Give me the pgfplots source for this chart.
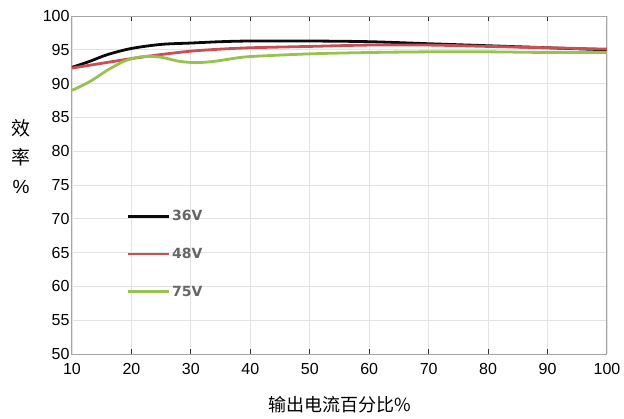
\documentclass[border=0pt]{standalone}
\usepackage{fontspec}
\setmainfont{Liberation Sans}
\newfontfamily\cjk{Noto Sans CJK SC}
\newfontfamily\legfont{DejaVu Sans}
\usepackage{pgfplots}
\pgfplotsset{compat=1.18}
\definecolor{c36}{RGB}{10,10,10}
\definecolor{c48}{RGB}{200,80,85}
\definecolor{c75}{RGB}{150,195,80}
\begin{document}
\begin{tikzpicture}
\path (-72pt,-64pt) (552pt,354pt);
\begin{axis}[
    at={(0pt,0pt)}, anchor=south west,
    scale only axis,
    width=535pt, height=338pt,
    xmin=10, xmax=100, ymin=50, ymax=100,
    xtick={10,20,...,100}, ytick={50,55,...,100},
    /pgf/number format/assume math mode=true,
    ticklabel style={font=\fontsize{16}{16}\selectfont},
    grid=major,
    grid style={gray!22, line width=0.8pt},
    axis line style={gray!70, line width=1pt},
    x axis line style={black!75},
    tick align=inside,
    major tick length=5pt,
    xtick style={black!80, line width=1pt},
    ytick style={draw=none},
    xticklabel style={yshift=-6pt},
    yticklabel style={xshift=1pt},
    xlabel={\cjk 输出电流百分比\%},
    xlabel style={font=\fontsize{18}{18}\selectfont, at={(axis description cs:0.5,0)},
        anchor=center, yshift=-51pt},
    legend style={at={(axis cs:18.6,71.9)}, anchor=north west, draw=none, fill=none,
        font=\fontsize{14}{14}\selectfont\legfont\bfseries\color{black!60},
        row sep=22pt},
    legend image code/.code={\draw[#1, line width=2.8pt] (0pt,0pt) -- (41pt,0pt);},
    every axis plot/.append style={line width=2.8pt, smooth},
]
\addplot[c36] coordinates {
 (10,92.4) (13,93.3) (16,94.3) (20,95.2) (25,95.8) (30,96.0) (35,96.2) (40,96.3)
 (50,96.3) (60,96.2) (70,95.9) (80,95.6) (90,95.3) (100,95.0)
};
\addlegendentry{36V}
\addplot[c48] coordinates {
 (10,92.3) (15,93.0) (20,93.7) (25,94.3) (30,94.8) (35,95.1) (40,95.3) (50,95.5)
 (60,95.7) (70,95.7) (80,95.5) (90,95.3) (100,95.1)
};
\addlegendentry{48V}
\addplot[c75] coordinates {
 (10,89.0) (13,90.3) (16,92.0) (19,93.4) (22,94.0) (25,93.9) (28,93.3) (31,93.1)
 (34,93.3) (37,93.7) (40,94.0) (50,94.4) (60,94.6) (70,94.7) (80,94.7) (90,94.6) (100,94.6)
};
\addlegendentry{75V}
\end{axis}
\node[align=center, font=\fontsize{19}{29}\selectfont, anchor=center]
  at (-51pt, 197pt) {{\cjk 效}\\{\cjk 率}\\\%};
\end{tikzpicture}
\end{document}
